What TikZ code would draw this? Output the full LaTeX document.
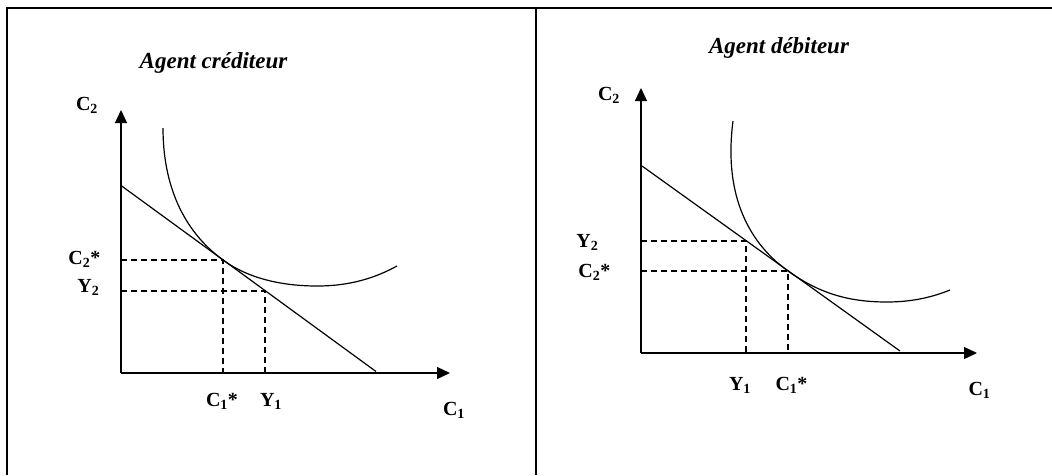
\documentclass[tikz,border=0pt]{standalone}
\usepackage{fontspec}
\setmainfont{Liberation Serif}
\usetikzlibrary{arrows.meta}

\begin{document}
\begin{tikzpicture}[x=1pt, y=-1pt, line width=1.2pt,
    axis/.style={line width=1.3pt, -{Triangle[length=13pt, width=12pt]}},
    guide/.style={dash pattern=on 6pt off 4pt},
    lbl/.style={font=\fontsize{20}{24}\selectfont\bfseries, inner sep=0pt},
    ttl/.style={font=\fontsize{23}{27}\selectfont\bfseries\itshape, inner sep=0pt, anchor=base}]
  \useasboundingbox (0,0) rectangle (1052,475);

  % table frame
  \draw[line width=2pt] (7,475) -- (7,7.5) -- (1052,7.5);
  \draw[line width=2pt] (536,7.5) -- (536,475);

  % left panel: agent crediteur
  \node[ttl] (tA) at (213.5,68) {Agent créditeur};
  \coordinate (oA) at (121,373);
  \coordinate (yA) at (121,110);
  \coordinate (xA) at (450,373);
  \draw[axis] (oA) -- (yA);
  \draw[axis] (oA) -- (xA);
  \draw (121,185.5) -- (376,371.5);
  \draw (163,128) .. controls (163,185) and (183,230.8) .. (223,260)
                  .. controls (250,279.7) and (285,286) .. (317,286)
                  .. controls (350,286) and (375,278) .. (397,266);
  \draw[guide] (121,260) -- (223,260) -- (223,373);
  \draw[guide] (121,291) -- (265,291) -- (265,373);
  \node[lbl, anchor=base] (c2A) at (87,110) {C\textsubscript{2}};
  \node[lbl, anchor=base east] (c2sA) at (101,264) {C\textsubscript{2}*};
  \node[lbl, anchor=base east] (y2A) at (100,292) {Y\textsubscript{2}};
  \node[lbl, anchor=base] (c1sA) at (222,406) {C\textsubscript{1}*};
  \node[lbl, anchor=base] (y1A) at (271,406) {Y\textsubscript{1}};
  \node[lbl, anchor=base] (c1A) at (454,415) {C\textsubscript{1}};

  % right panel: agent debiteur
  \node[ttl] (tB) at (779,53) {Agent débiteur};
  \coordinate (oB) at (641,353);
  \coordinate (yB) at (641,88);
  \coordinate (xB) at (977,353);
  \draw[axis] (oB) -- (yB);
  \draw[axis] (oB) -- (xB);
  \draw (642,166) -- (900,351);
  \draw (733,121) .. controls (724,190) and (745,240.2) .. (788,271)
                  .. controls (820,294) and (850,302) .. (887,302)
                  .. controls (915,302) and (935,296) .. (950,290);
  \draw[guide] (641,241) -- (746,241) -- (746,353);
  \draw[guide] (641,271) -- (788,271) -- (788,353);
  \node[lbl, anchor=base] (c2B) at (609,100) {C\textsubscript{2}};
  \node[lbl, anchor=base east] (y2B) at (599,247) {Y\textsubscript{2}};
  \node[lbl, anchor=base east] (c2sB) at (611,277) {C\textsubscript{2}*};
  \node[lbl, anchor=base] (y1B) at (740,390) {Y\textsubscript{1}};
  \node[lbl, anchor=base] (c1sB) at (791.5,390) {C\textsubscript{1}*};
  \node[lbl, anchor=base] (c1B) at (979.5,395) {C\textsubscript{1}};
\end{tikzpicture}
\end{document}
